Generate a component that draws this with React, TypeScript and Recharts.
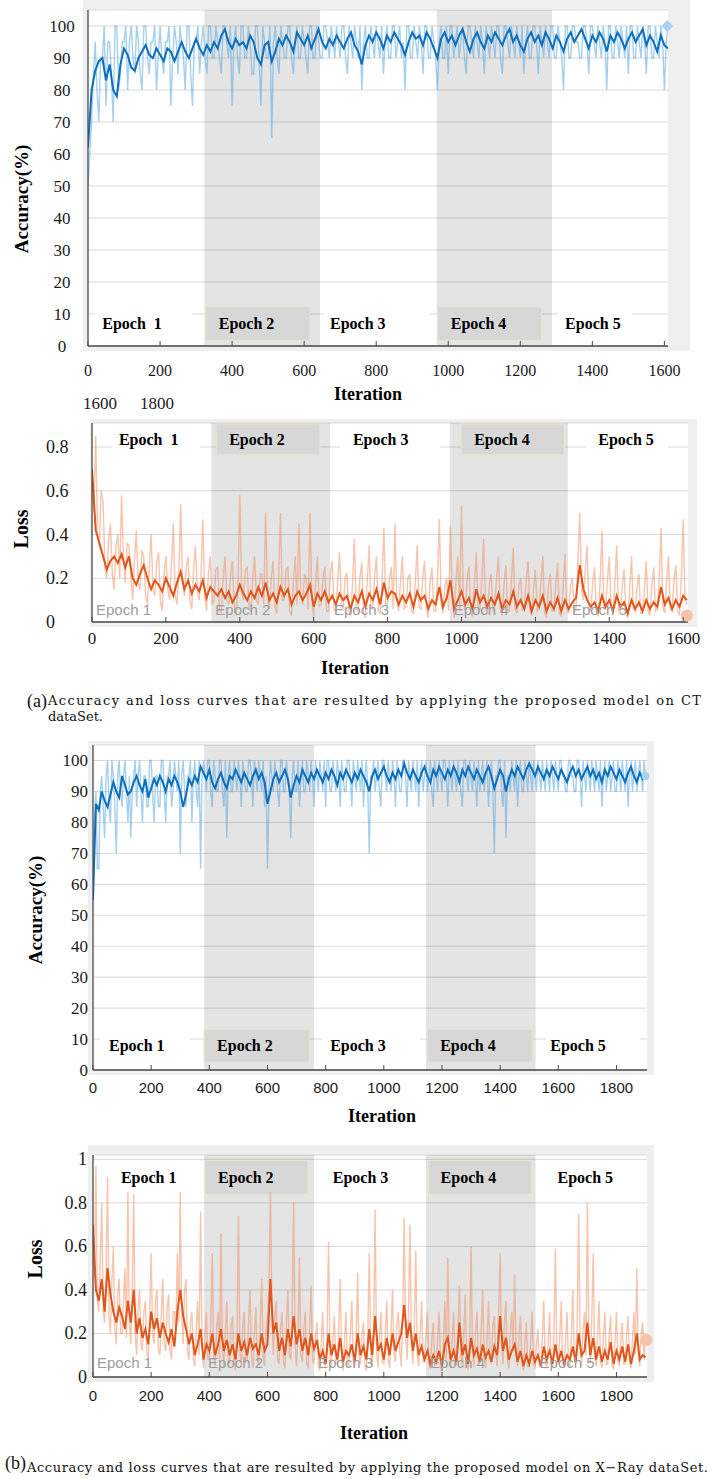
import React from "react";
import { LineChart, Line, XAxis, YAxis, CartesianGrid, ReferenceArea, ReferenceDot } from "recharts";

const SERIF = '"Liberation Serif", "Times New Roman", serif';
const SANS = '"Liberation Sans", Arial, sans-serif';
const CAPTION = '"DejaVu Serif", serif';

const FRAME = "#efefef";
const GRID = "#d9d9d9";
const AXIS = "#4a4a4a";
const BOX = "#d7d7d7";
const BLUE_RAW = "#5aa8e0";
const BLUE = "#0b6fc0";
const ORANGE_RAW = "#ef8a5c";
const ORANGE = "#e0561b";

// raw batch values are stored every RAW_STEP iterations, smoothed ones every SMOOTH_STEP
const RAW_STEP = 5;
const SMOOTH_STEP = 10;

// ---- CT dataset ----
const ctAccRaw = [
  50, 60, 70, 85, 95, 80, 70, 90, 90, 100, 75, 95, 95, 85, 70, 100, 100, 80, 85, 95,
  95, 100, 80, 95, 100, 90, 85, 100, 95, 85, 80, 100, 100, 90, 85, 95, 95, 100, 80, 90,
  100, 90, 85, 95, 95, 100, 75, 90, 100, 95, 85, 100, 95, 90, 80, 100, 100, 85, 75, 95,
  95, 100, 85, 95, 100, 90, 85, 100, 100, 90, 90, 100, 95, 90, 85, 100, 100, 95, 90, 100,
  75, 95, 100, 90, 85, 100, 100, 90, 90, 100, 95, 85, 85, 100, 100, 90, 75, 100, 95, 90,
  90, 100, 65, 95, 100, 90, 85, 100, 95, 90, 90, 100, 100, 90, 85, 95, 100, 90, 90, 100,
  95, 90, 85, 100, 100, 90, 90, 100, 95, 90, 90, 100, 100, 95, 90, 100, 95, 90, 100, 95,
  90, 100, 100, 90, 85, 100, 95, 90, 100, 95, 90, 100, 80, 95, 100, 90, 90, 100, 95, 90,
  100, 95, 90, 100, 85, 95, 100, 90, 90, 100, 100, 90, 95, 100, 90, 95, 80, 100, 100, 90,
  90, 100, 95, 90, 100, 95, 85, 100, 100, 90, 90, 100, 95, 90, 80, 95, 100, 90, 90, 100,
  85, 100, 100, 90, 95, 100, 90, 95, 100, 90, 85, 100, 100, 95, 90, 100, 95, 90, 100, 95,
  85, 100, 95, 90, 100, 95, 90, 100, 100, 90, 85, 100, 100, 95, 90, 100, 95, 90, 100, 95,
  90, 100, 85, 95, 100, 90, 90, 100, 100, 95, 85, 100, 95, 90, 100, 95, 90, 100, 100, 90,
  90, 100, 95, 90, 80, 100, 100, 90, 90, 100, 100, 95, 95, 90, 90, 100, 100, 95, 85, 100,
  100, 95, 90, 100, 95, 90, 100, 95, 80, 100, 100, 90, 90, 100, 95, 90, 100, 95, 90, 100,
  85, 100, 100, 90, 90, 100, 95, 90, 100, 95, 85, 100, 100, 90, 90, 100, 95, 90, 100, 95,
  80, 95, 100,
];
const ctAccSmooth = [
  62, 80, 86, 89, 90, 83, 88, 80, 78, 88,
  93, 91, 87, 86, 90, 92, 94, 91, 90, 93,
  91, 89, 93, 92, 89, 92, 95, 92, 90, 93,
  96, 93, 91, 94, 92, 95, 93, 97, 99, 95,
  93, 96, 94, 95, 93, 97, 95, 90, 88, 94,
  95, 89, 92, 96, 94, 97, 95, 92, 98, 96,
  94, 97, 93, 96, 99, 95, 93, 96, 94, 97,
  95, 93, 96, 98, 94, 92, 88, 94, 97, 95,
  98, 96, 93, 97, 95, 98, 96, 94, 91, 95,
  98, 96, 97, 94, 98, 96, 93, 90, 96, 98,
  95, 97, 94, 97, 99, 95, 92, 96, 98, 95,
  93, 97, 95, 98, 96, 94, 97, 99, 95, 97,
  94, 92, 96, 98, 95, 97, 94, 98, 96, 93,
  97, 95, 92, 96, 98, 95, 97, 99, 96, 93,
  97, 95, 98, 96, 92, 97, 95, 98, 96, 93,
  96, 98, 95, 97, 99, 94, 97, 95, 92, 97,
  94, 93,
];
const ctLossRaw = [
  0.7, 0.5, 0.85, 0.4, 0.35, 0.6, 0.55, 0.25, 0.2, 0.38, 0.45, 0.22, 0.15, 0.35, 0.4, 0.2, 0.58, 0.3, 0.18, 0.36,
  0.35, 0.2, 0.1, 0.28, 0.42, 0.18, 0.15, 0.33, 0.3, 0.12, 0.08, 0.25, 0.4, 0.15, 0.12, 0.27, 0.32, 0.1, 0.05, 0.22,
  0.3, 0.15, 0.1, 0.26, 0.45, 0.12, 0.08, 0.22, 0.54, 0.18, 0.12, 0.25, 0.3, 0.1, 0.06, 0.24, 0.35, 0.14, 0.1, 0.2,
  0.47, 0.12, 0.05, 0.22, 0.3, 0.08, 0.1, 0.24, 0.25, 0.06, 0.04, 0.2, 0.3, 0.1, 0.08, 0.22, 0.28, 0.07, 0.03, 0.18,
  0.58, 0.14, 0.1, 0.24, 0.25, 0.06, 0.05, 0.2, 0.3, 0.1, 0.08, 0.22, 0.22, 0.08, 0.5, 0.12, 0.06, 0.2, 0.28, 0.07,
  0.04, 0.2, 0.5, 0.1, 0.1, 0.24, 0.25, 0.05, 0.03, 0.18, 0.3, 0.08, 0.45, 0.12, 0.08, 0.22, 0.2, 0.06, 0.5, 0.1,
  0.02, 0.18, 0.3, 0.07, 0.08, 0.2, 0.25, 0.05, 0.05, 0.22, 0.28, 0.06, 0.04, 0.19, 0.32, 0.08, 0.06, 0.21, 0.22, 0.05,
  0.03, 0.17, 0.38, 0.06, 0.05, 0.2, 0.27, 0.04, 0.02, 0.19, 0.35, 0.07, 0.06, 0.21, 0.3, 0.05, 0.04, 0.18, 0.43, 0.08,
  0.08, 0.2, 0.25, 0.06, 0.45, 0.1, 0.05, 0.19, 0.3, 0.06, 0.07, 0.2, 0.22, 0.05, 0.04, 0.18, 0.35, 0.07, 0.06, 0.2,
  0.28, 0.06, 0.02, 0.18, 0.25, 0.05, 0.05, 0.2, 0.47, 0.08, 0.04, 0.17, 0.2, 0.05, 0.44, 0.1, 0.02, 0.19, 0.3, 0.06,
  0.53, 0.1, 0.05, 0.2, 0.25, 0.04, 0.03, 0.18, 0.32, 0.06, 0.06, 0.2, 0.38, 0.07, 0.04, 0.17, 0.22, 0.05, 0.08, 0.2,
  0.3, 0.06, 0.03, 0.17, 0.26, 0.05, 0.05, 0.19, 0.34, 0.06, 0.04, 0.16, 0.2, 0.05, 0.07, 0.18, 0.28, 0.05, 0.03, 0.15,
  0.24, 0.05, 0.06, 0.18, 0.3, 0.04, 0.02, 0.16, 0.22, 0.05, 0.05, 0.17, 0.27, 0.04, 0.03, 0.15, 0.31, 0.06, 0.04, 0.17,
  0.2, 0.05, 0.06, 0.28, 0.5, 0.15, 0.1, 0.24, 0.35, 0.06, 0.05, 0.18, 0.25, 0.04, 0.03, 0.17, 0.42, 0.07, 0.06, 0.19,
  0.3, 0.06, 0.04, 0.17, 0.35, 0.05, 0.05, 0.16, 0.24, 0.04, 0.02, 0.15, 0.3, 0.06, 0.05, 0.16, 0.22, 0.04, 0.04, 0.15,
  0.28, 0.05, 0.03, 0.17, 0.25, 0.05, 0.06, 0.2, 0.43, 0.07, 0.04, 0.18, 0.3, 0.06, 0.05, 0.19, 0.26, 0.05, 0.03, 0.2,
  0.47, 0.1, 0.08,
];
const ctLossSmooth = [
  0.7, 0.42, 0.36, 0.3, 0.24, 0.28, 0.3, 0.27, 0.31, 0.25,
  0.3, 0.2, 0.17, 0.22, 0.26, 0.2, 0.15, 0.19, 0.17, 0.14,
  0.2, 0.16, 0.12, 0.18, 0.23, 0.15, 0.19, 0.13, 0.17, 0.14,
  0.19, 0.11, 0.16, 0.14, 0.12, 0.15, 0.11, 0.14, 0.09, 0.12,
  0.17, 0.13, 0.1, 0.14, 0.11, 0.16, 0.12, 0.18, 0.1, 0.13,
  0.09, 0.16, 0.12, 0.15, 0.08, 0.12, 0.14, 0.1, 0.13, 0.17,
  0.07, 0.13, 0.1, 0.14, 0.09, 0.12, 0.08, 0.13, 0.1, 0.12,
  0.06, 0.12, 0.09, 0.14, 0.07, 0.13, 0.1, 0.15, 0.08, 0.18,
  0.11, 0.14, 0.13, 0.08, 0.12, 0.09, 0.13, 0.07, 0.14, 0.1,
  0.12, 0.06, 0.1, 0.08, 0.16, 0.07, 0.11, 0.19, 0.06, 0.1,
  0.14, 0.08, 0.11, 0.06, 0.15, 0.09, 0.12, 0.07, 0.11, 0.08,
  0.13, 0.06, 0.1, 0.08, 0.14, 0.07, 0.1, 0.06, 0.12, 0.05,
  0.1, 0.07, 0.12, 0.05, 0.09, 0.06, 0.11, 0.05, 0.1, 0.06,
  0.09, 0.11, 0.26, 0.15, 0.1, 0.07, 0.09, 0.05, 0.12, 0.07,
  0.1, 0.05, 0.12, 0.07, 0.09, 0.04, 0.1, 0.06, 0.09, 0.05,
  0.1, 0.06, 0.09, 0.07, 0.16, 0.08, 0.11, 0.06, 0.1, 0.07,
  0.12, 0.1,
];

// ---- X-Ray dataset ----
const xrAccRaw = [
  55, 80, 90, 65, 65, 90, 95, 85, 75, 95, 100, 85, 80, 100, 95, 85, 70, 95, 100, 90,
  85, 95, 100, 90, 80, 95, 75, 90, 95, 100, 85, 95, 100, 90, 80, 95, 95, 85, 85, 100,
  100, 90, 80, 95, 95, 85, 85, 100, 100, 90, 80, 95, 95, 100, 85, 90, 100, 95, 90, 100,
  70, 95, 100, 90, 85, 95, 95, 100, 80, 95, 100, 90, 85, 100, 65, 95, 100, 95, 90, 100,
  100, 90, 85, 100, 95, 90, 90, 100, 100, 90, 85, 100, 75, 95, 100, 90, 90, 100, 95, 90,
  100, 95, 85, 100, 95, 90, 90, 100, 100, 95, 85, 100, 95, 90, 100, 95, 90, 100, 85, 95,
  65, 90, 100, 95, 90, 100, 95, 90, 85, 100, 100, 90, 90, 100, 95, 90, 75, 95, 100, 90,
  90, 100, 85, 95, 100, 90, 90, 100, 95, 90, 100, 95, 85, 100, 95, 90, 100, 95, 90, 100,
  85, 100, 100, 90, 90, 100, 95, 90, 100, 95, 85, 100, 95, 90, 90, 100, 100, 95, 85, 100,
  95, 90, 100, 95, 90, 100, 85, 95, 100, 90, 70, 95, 95, 100, 90, 95, 100, 90, 85, 100,
  100, 95, 90, 100, 95, 90, 100, 95, 85, 100, 95, 90, 90, 100, 100, 95, 85, 100, 95, 90,
  100, 95, 90, 100, 85, 95, 100, 90, 95, 100, 90, 95, 100, 90, 85, 100, 95, 90, 100, 95,
  90, 100, 100, 95, 85, 100, 95, 90, 100, 95, 90, 100, 95, 90, 85, 100, 100, 95, 90, 100,
  95, 90, 100, 95, 85, 100, 90, 95, 100, 90, 95, 100, 85, 95, 100, 90, 70, 95, 95, 100,
  100, 90, 85, 100, 75, 95, 95, 90, 100, 95, 90, 100, 85, 95, 100, 90, 90, 100, 95, 90,
  100, 95, 90, 100, 95, 90, 100, 95, 90, 100, 95, 90, 100, 95, 90, 100, 95, 90, 100, 95,
  90, 100, 100, 95, 95, 90, 90, 100, 100, 95, 95, 90, 90, 100, 100, 95, 85, 100, 95, 90,
  100, 95, 90, 100, 95, 90, 100, 95, 90, 100, 85, 95, 100, 90, 95, 100, 90, 95, 100, 90,
  90, 100, 95, 90, 100, 95, 90, 100, 85, 95, 100, 90, 95, 100, 90, 95, 100, 95, 90, 100,
  95,
];
const xrAccSmooth = [
  55, 86, 84, 90, 87, 85, 89, 93, 90, 88,
  95, 92, 89, 90, 93, 95, 92, 90, 94, 88,
  91, 94, 92, 95, 93, 90, 94, 92, 95, 93,
  90, 85, 89, 94, 92, 95, 93, 98, 96, 94,
  97, 93, 91, 94, 96, 93, 91, 95, 94, 97,
  95, 93, 96, 94, 92, 95, 97, 94, 96, 93,
  86, 90, 94, 96, 93, 95, 97, 94, 88, 92,
  95, 93, 97, 95, 93, 96, 94, 97, 95, 93,
  96, 94, 97, 95, 92, 96, 94, 97, 95, 93,
  96, 94, 97, 95, 93, 90, 95, 97, 94, 96,
  98, 95, 93, 96, 94, 97, 95, 99, 96, 94,
  97, 95, 93, 96, 98, 95, 93, 97, 95, 98,
  96, 94, 97, 95, 98, 96, 93, 97, 95, 98,
  96, 94, 97, 95, 93, 96, 98, 95, 91, 94,
  97, 95, 90, 94, 97, 95, 98, 96, 94, 97,
  99, 97, 95, 98, 96, 94, 97, 95, 98, 96,
  94, 97, 95, 93, 96, 98, 95, 97, 94, 96,
  98, 95, 97, 94, 96, 93, 97, 95, 98, 96,
  94, 97, 95, 93, 96, 98, 95, 93, 96, 94,
  95,
];
const xrLossRaw = [
  0.7, 0.45, 0.97, 0.35, 0.3, 0.55, 0.8, 0.3, 0.25, 0.5, 0.92, 0.28, 0.2, 0.45, 0.6, 0.22, 0.15, 0.38, 0.45, 0.2,
  0.2, 0.36, 0.5, 0.18, 0.85, 0.25, 0.15, 0.4, 0.84, 0.2, 0.1, 0.32, 0.4, 0.15, 0.12, 0.3, 0.35, 0.12, 0.08, 0.28,
  0.57, 0.2, 0.15, 0.35, 0.4, 0.12, 0.1, 0.3, 0.45, 0.15, 0.12, 0.32, 0.38, 0.12, 0.08, 0.3, 0.3, 0.2, 0.57, 0.25,
  0.85, 0.3, 0.15, 0.4, 0.45, 0.12, 0.08, 0.25, 0.3, 0.08, 0.05, 0.22, 0.35, 0.1, 0.76, 0.15, 0.04, 0.2, 0.3, 0.08,
  0.08, 0.25, 0.57, 0.1, 0.05, 0.22, 0.3, 0.08, 0.66, 0.12, 0.04, 0.2, 0.35, 0.08, 0.06, 0.24, 0.28, 0.07, 0.03, 0.2,
  0.74, 0.12, 0.05, 0.22, 0.3, 0.07, 0.08, 0.25, 0.4, 0.1, 0.04, 0.2, 0.32, 0.08, 0.06, 0.24, 0.45, 0.1, 0.05, 0.22,
  0.28, 0.4, 0.85, 0.3, 0.1, 0.28, 0.35, 0.08, 0.06, 0.22, 0.3, 0.07, 0.04, 0.24, 0.4, 0.1, 0.08, 0.3, 0.8, 0.15,
  0.05, 0.2, 0.55, 0.1, 0.07, 0.22, 0.3, 0.06, 0.04, 0.2, 0.42, 0.08, 0.06, 0.18, 0.25, 0.05, 0.03, 0.16, 0.3, 0.06,
  0.05, 0.2, 0.62, 0.1, 0.04, 0.18, 0.28, 0.06, 0.06, 0.22, 0.45, 0.08, 0.03, 0.17, 0.3, 0.06, 0.05, 0.2, 0.35, 0.07,
  0.04, 0.18, 0.48, 0.08, 0.06, 0.2, 0.25, 0.05, 0.03, 0.2, 0.57, 0.1, 0.05, 0.22, 0.77, 0.12, 0.04, 0.18, 0.3, 0.07,
  0.06, 0.2, 0.35, 0.08, 0.04, 0.22, 0.4, 0.1, 0.07, 0.25, 0.3, 0.12, 0.05, 0.28, 0.73, 0.2, 0.08, 0.3, 0.7, 0.15,
  0.06, 0.22, 0.58, 0.1, 0.05, 0.2, 0.35, 0.07, 0.08, 0.2, 0.3, 0.06, 0.04, 0.17, 0.25, 0.05, 0.06, 0.18, 0.3, 0.05,
  0.03, 0.16, 0.35, 0.08, 0.55, 0.12, 0.04, 0.18, 0.3, 0.06, 0.06, 0.22, 0.42, 0.1, 0.05, 0.2, 0.38, 0.08, 0.03, 0.15,
  0.6, 0.12, 0.05, 0.2, 0.3, 0.07, 0.07, 0.22, 0.4, 0.1, 0.04, 0.18, 0.35, 0.08, 0.06, 0.24, 0.28, 0.1, 0.05, 0.3,
  0.57, 0.15, 0.06, 0.25, 0.35, 0.08, 0.04, 0.2, 0.3, 0.12, 0.47, 0.1, 0.05, 0.2, 0.28, 0.06, 0.03, 0.15, 0.25, 0.05,
  0.05, 0.16, 0.3, 0.06, 0.04, 0.15, 0.22, 0.05, 0.06, 0.18, 0.35, 0.07, 0.04, 0.16, 0.3, 0.06, 0.05, 0.2, 0.59, 0.1,
  0.06, 0.18, 0.35, 0.07, 0.04, 0.17, 0.3, 0.06, 0.05, 0.2, 0.4, 0.08, 0.06, 0.25, 0.75, 0.15, 0.05, 0.22, 0.3, 0.1,
  0.8, 0.2, 0.06, 0.25, 0.57, 0.1, 0.05, 0.2, 0.35, 0.07, 0.04, 0.18, 0.3, 0.06, 0.06, 0.2, 0.28, 0.05, 0.04, 0.17,
  0.3, 0.07, 0.05, 0.18, 0.25, 0.06, 0.06, 0.2, 0.28, 0.07, 0.04, 0.17, 0.3, 0.1, 0.5, 0.12, 0.05, 0.2, 0.25, 0.08,
  0.17,
];
const xrLossSmooth = [
  0.7, 0.4, 0.35, 0.45, 0.3, 0.5, 0.38, 0.3, 0.25, 0.32,
  0.28, 0.22, 0.35, 0.25, 0.4, 0.2, 0.27, 0.18, 0.22, 0.15,
  0.3, 0.22, 0.27, 0.18, 0.25, 0.2, 0.16, 0.22, 0.14, 0.3,
  0.4, 0.28, 0.22, 0.15, 0.2, 0.1, 0.15, 0.22, 0.08, 0.15,
  0.12, 0.2, 0.1, 0.15, 0.22, 0.12, 0.17, 0.1, 0.15, 0.08,
  0.2, 0.12, 0.16, 0.1, 0.18, 0.13, 0.15, 0.1, 0.2, 0.12,
  0.15, 0.45, 0.2, 0.25, 0.12, 0.18, 0.1, 0.22, 0.14, 0.28,
  0.15, 0.22, 0.12, 0.18, 0.1, 0.2, 0.13, 0.17, 0.08, 0.12,
  0.06, 0.2, 0.1, 0.15, 0.08, 0.18, 0.07, 0.12, 0.1, 0.15,
  0.07, 0.2, 0.1, 0.14, 0.08, 0.22, 0.1, 0.28, 0.12, 0.15,
  0.08, 0.18, 0.1, 0.2, 0.12, 0.16, 0.2, 0.33, 0.18, 0.25,
  0.12, 0.2, 0.1, 0.14, 0.08, 0.12, 0.06, 0.1, 0.07, 0.12,
  0.05, 0.15, 0.18, 0.08, 0.12, 0.07, 0.25, 0.1, 0.15, 0.06,
  0.18, 0.1, 0.13, 0.07, 0.15, 0.09, 0.12, 0.07, 0.14, 0.1,
  0.28, 0.12, 0.18, 0.08, 0.12, 0.15, 0.07, 0.12, 0.05, 0.1,
  0.06, 0.12, 0.07, 0.1, 0.05, 0.14, 0.08, 0.12, 0.06, 0.15,
  0.07, 0.12, 0.06, 0.1, 0.08, 0.14, 0.07, 0.2, 0.1, 0.12,
  0.25, 0.1, 0.18, 0.08, 0.14, 0.07, 0.12, 0.08, 0.16, 0.06,
  0.12, 0.08, 0.14, 0.07, 0.15, 0.06, 0.12, 0.2, 0.08, 0.1,
  0.09,
];

const ACC_TICKS = [0, 10, 20, 30, 40, 50, 60, 70, 80, 90, 100];
const CT_LOSS_TICKS = [0, 0.2, 0.4, 0.6, 0.8];
const XR_LOSS_TICKS = [0, 0.2, 0.4, 0.6, 0.8, 1];
const CT_X_TICKS = [0, 200, 400, 600, 800, 1000, 1200, 1400, 1600];
const XR_X_TICKS = [0, 200, 400, 600, 800, 1000, 1200, 1400, 1600, 1800];

// epoch boundaries (iterations)
const CT_EPOCHS = [0, 323, 644, 968, 1288];
const XR_EPOCHS = [0, 382, 760, 1145, 1522];
const CT_BANDS = [[323, 644], [968, 1288]];
const XR_BANDS = [[382, 760], [1145, 1522]];
const EPOCH_NAMES = ["Epoch\u00a0 1", "Epoch 2", "Epoch 3", "Epoch 4", "Epoch 5"];
const PLAIN_NAMES = ["Epoch 1", "Epoch 2", "Epoch 3", "Epoch 4", "Epoch 5"];

type Tag = { text: string; x1: number; x2: number; boxed: boolean; pad: number };

type PanelProps = {
  top: number;
  bottom: number;
  left: number;
  right: number;
  frame: number[];
  xMax: number;
  xTicks: number[];
  xFont: string;
  xSize: number;
  xGap: number;
  yMax: number;
  yTicks: number[];
  ySize: number;
  yLabelX: number;
  yAnchor: "start" | "middle" | "end";
  raw: number[];
  smooth: number[];
  rawColor: string;
  rawOpacity: number;
  smoothColor: string;
  bands: number[][];
  tags: Tag[];
  tagY: number[];
  marks?: { starts: number[]; y: number };
  end: { x: number; y: number; color: string; r: number; diamond?: boolean };
};

function Panel(p: PanelProps) {
  const ratio = SMOOTH_STEP / RAW_STEP;
  const data = p.raw.map((v, i) => ({
    it: i * RAW_STEP,
    raw: v,
    smooth: i % ratio === 0 ? p.smooth[i / ratio] : undefined,
  }));
  const chartTop = p.top - 10;
  const height = p.bottom - chartTop + 40;

  const xTick = (t: any) => (
    <g>
      <line x1={t.x} x2={t.x} y1={t.y} y2={t.y - 5} stroke={AXIS} strokeWidth={1} />
      <text
        x={t.x}
        y={t.y + p.xGap}
        textAnchor="middle"
        dominantBaseline="central"
        fontFamily={p.xFont}
        fontSize={p.xSize}
        fill="#1a1a1a"
      >
        {t.payload.value}
      </text>
    </g>
  );
  const yTick = (t: any) => (
    <text
      x={p.yLabelX}
      y={t.y}
      textAnchor={p.yAnchor}
      dominantBaseline="central"
      fontFamily={SERIF}
      fontSize={p.ySize}
      fill="#1a1a1a"
    >
      {t.payload.value}
    </text>
  );

  return (
    <>
      <div
        style={{
          position: "absolute",
          left: p.frame[0],
          top: p.frame[1],
          width: p.frame[2] - p.frame[0],
          height: p.frame[3] - p.frame[1],
          background: FRAME,
        }}
      />
      <div style={{ position: "absolute", left: 0, top: chartTop }}>
        <LineChart
          width={715}
          height={height}
          data={data}
          margin={{ top: 10, right: 715 - p.right, bottom: 0, left: 0 }}
        >
          <CartesianGrid vertical={false} stroke={GRID} fill="#fff" fillOpacity={1} />
          {p.bands.map((b, i) => (
            <ReferenceArea key={"b" + i} x1={b[0]} x2={b[1]} fill="#000" fillOpacity={0.105} stroke="none" />
          ))}
          <XAxis
            type="number"
            dataKey="it"
            domain={[0, p.xMax]}
            ticks={p.xTicks}
            interval={0}
            allowDataOverflow
            height={40}
            tickSize={0}
            tickMargin={0}
            tickLine={false}
            axisLine={{ stroke: AXIS, strokeWidth: 1.3 }}
            tick={xTick}
          />
          <YAxis
            type="number"
            domain={[0, p.yMax]}
            ticks={p.yTicks}
            interval={0}
            allowDataOverflow
            width={p.left}
            tickSize={0}
            tickMargin={0}
            tickLine={false}
            axisLine={{ stroke: AXIS, strokeWidth: 1.3 }}
            tick={yTick}
          />
          {p.marks &&
            p.marks.starts.map((s, i) => (
              <ReferenceArea
                key={"m" + i}
                x1={s}
                x2={i < p.marks!.starts.length - 1 ? p.marks!.starts[i + 1] : p.xMax}
                y1={0}
                y2={p.marks!.y}
                fill="none"
                stroke="none"
                label={{
                  value: PLAIN_NAMES[i],
                  position: "insideLeft",
                  offset: 4,
                  fill: "#9c9c9c",
                  fontFamily: SANS,
                  fontSize: 15,
                }}
              />
            ))}
          <Line
            type="linear"
            dataKey="raw"
            stroke={p.rawColor}
            strokeOpacity={p.rawOpacity}
            strokeWidth={1.4}
            dot={false}
            isAnimationActive={false}
          />
          <Line
            type="linear"
            dataKey="smooth"
            stroke={p.smoothColor}
            strokeWidth={2}
            dot={false}
            connectNulls
            isAnimationActive={false}
          />
          {p.tags.map((t, i) => (
            <ReferenceArea
              key={"t" + i}
              x1={t.x1}
              x2={t.x2}
              y1={p.tagY[0]}
              y2={p.tagY[1]}
              fill={t.boxed ? BOX : "#fff"}
              fillOpacity={1}
              stroke={t.boxed ? "#ebe3c9" : "none"}
              label={{
                value: t.text,
                position: "insideLeft",
                offset: t.pad,
                fill: "#000",
                fontFamily: SERIF,
                fontWeight: "bold",
                fontSize: 16,
              }}
            />
          ))}
          <ReferenceDot
            x={p.end.x}
            y={p.end.y}
            r={p.end.r}
            fill={p.end.color}
            stroke="none"
            shape={
              p.end.diamond
                ? (q: any) => (
                    <path
                      d={`M${q.cx},${q.cy - 6}L${q.cx + 6},${q.cy}L${q.cx},${q.cy + 6}L${q.cx - 6},${q.cy}Z`}
                      fill={p.end.color}
                    />
                  )
                : undefined
            }
          />
        </LineChart>
      </div>
    </>
  );
}

const tagsFrom = (names: string[], spans: number[][], pads: number[]): Tag[] =>
  names.map((n, i) => ({ text: n, x1: spans[i][0], x2: spans[i][1], boxed: i % 2 === 1, pad: pads[i] }));

export default function App() {
  return (
    <div style={{ position: "absolute", left: 0, top: 0, width: 715, height: 1479, background: "#fff" }}>
      <Panel
        top={10}
        bottom={346}
        left={88}
        right={668}
        frame={[83, 0, 690, 351]}
        xMax={1610}
        xTicks={CT_X_TICKS}
        xFont={SERIF}
        xSize={16}
        xGap={24}
        yMax={105}
        yTicks={ACC_TICKS}
        ySize={17}
        yLabelX={62}
        yAnchor="middle"
        raw={ctAccRaw}
        smooth={ctAccSmooth}
        rawColor={BLUE_RAW}
        rawOpacity={0.55}
        smoothColor={BLUE}
        bands={CT_BANDS}
        tags={tagsFrom(EPOCH_NAMES, [[20, 290], [327, 616], [655, 950], [971, 1259], [1305, 1510]], [7, 13, 6, 13, 7])}
        tagY={[1.8, 12.2]}
        end={{ x: 1608, y: 100, color: "#a9d1f0", r: 6, diamond: true }}
      />
      <Panel
        top={423}
        bottom={622}
        left={92}
        right={688}
        frame={[90, 419, 697, 627]}
        xMax={1613}
        xTicks={CT_X_TICKS}
        xFont={SERIF}
        xSize={17}
        xGap={16}
        yMax={0.91}
        yTicks={CT_LOSS_TICKS}
        ySize={18}
        yLabelX={46}
        yAnchor="start"
        raw={ctLossRaw}
        smooth={ctLossSmooth}
        rawColor={ORANGE_RAW}
        rawOpacity={0.5}
        smoothColor={ORANGE}
        bands={CT_BANDS}
        tags={tagsFrom(EPOCH_NAMES, [[54, 292], [336, 617], [671, 942], [999, 1278], [1335, 1559]], [7, 13, 13, 13, 13])}
        tagY={[0.765, 0.905]}
        marks={{ starts: CT_EPOCHS, y: 0.11 }}
        end={{ x: 1610, y: 0.03, color: "#f6c2a8", r: 6 }}
      />
      <Panel
        top={745}
        bottom={1070}
        left={93}
        right={647}
        frame={[88, 741, 654, 1075]}
        xMax={1905}
        xTicks={XR_X_TICKS}
        xFont={SANS}
        xSize={15}
        xGap={17}
        yMax={105}
        yTicks={ACC_TICKS}
        ySize={17}
        yLabelX={88}
        yAnchor="end"
        raw={xrAccRaw}
        smooth={xrAccSmooth}
        rawColor={BLUE_RAW}
        rawOpacity={0.55}
        smoothColor={BLUE}
        bands={XR_BANDS}
        tags={tagsFrom(PLAIN_NAMES, [[24, 334], [382, 743], [788, 1125], [1149, 1511], [1555, 1882]], [9, 13, 8, 13, 5])}
        tagY={[2.6, 13.2]}
        end={{ x: 1900, y: 95, color: "#a9d1f0", r: 4 }}
      />
      <Panel
        top={1155}
        bottom={1377}
        left={93}
        right={647}
        frame={[88, 1145, 654, 1382]}
        xMax={1905}
        xTicks={XR_X_TICKS}
        xFont={SANS}
        xSize={15}
        xGap={18}
        yMax={1.02}
        yTicks={XR_LOSS_TICKS}
        ySize={18}
        yLabelX={87}
        yAnchor="end"
        raw={xrLossRaw}
        smooth={xrLossSmooth}
        rawColor={ORANGE_RAW}
        rawOpacity={0.5}
        smoothColor={ORANGE}
        bands={XR_BANDS}
        tags={tagsFrom(PLAIN_NAMES, [[65, 368], [385, 739], [797, 1123], [1154, 1508], [1563, 1879]], [9, 13, 8, 12, 10])}
        tagY={[0.84, 0.995]}
        marks={{ starts: XR_EPOCHS, y: 0.128 }}
        end={{ x: 1903, y: 0.17, color: "#f6c2a8", r: 6 }}
      />

      <svg
        width={715}
        height={1479}
        style={{ position: "absolute", left: 0, top: 0, pointerEvents: "none" }}
      >
        <g fontFamily={SERIF} fontWeight="bold" fill="#000" textAnchor="middle">
          <text x={21} y={199} fontSize={19} dominantBaseline="central" transform="rotate(-90 21 199)">
            Accuracy(%)
          </text>
          <text x={368} y={394} fontSize={18} dominantBaseline="central">Iteration</text>
          <text x={21} y={529} fontSize={20} dominantBaseline="central" transform="rotate(-90 21 529)">
            Loss
          </text>
          <text x={355} y={668} fontSize={18} dominantBaseline="central">Iteration</text>
          <text x={35} y={910} fontSize={19} dominantBaseline="central" transform="rotate(-90 35 910)">
            Accuracy(%)
          </text>
          <text x={382} y={1116} fontSize={18} dominantBaseline="central">Iteration</text>
          <text x={35} y={1259} fontSize={20} dominantBaseline="central" transform="rotate(-90 35 1259)">
            Loss
          </text>
          <text x={374} y={1433} fontSize={18} dominantBaseline="central">Iteration</text>
        </g>
        <g fontFamily={SERIF} fontSize={17} fill="#1a1a1a" textAnchor="middle">
          <text x={100} y={403} dominantBaseline="central">1600</text>
          <text x={157} y={403} dominantBaseline="central">1800</text>
        </g>
        <g fontFamily={SERIF} fill="#111" fontSize={18}>
          <text x={27} y={707}>(a)</text>
          <text x={5} y={1469}>(b)</text>
        </g>
        <g fontFamily={CAPTION} fill="#111" fontSize={13}>
          <text x={48} y={705} textLength={653} lengthAdjust="spacing">
            Accuracy and loss curves that are resulted by applying the proposed model on CT
          </text>
          <text x={48} y={721}>dataSet.</text>
          <text x={27} y={1472} textLength={681} lengthAdjust="spacing">
            Accuracy and loss curves that are resulted by applying the proposed model on X−Ray dataSet.
          </text>
        </g>
      </svg>
    </div>
  );
}
